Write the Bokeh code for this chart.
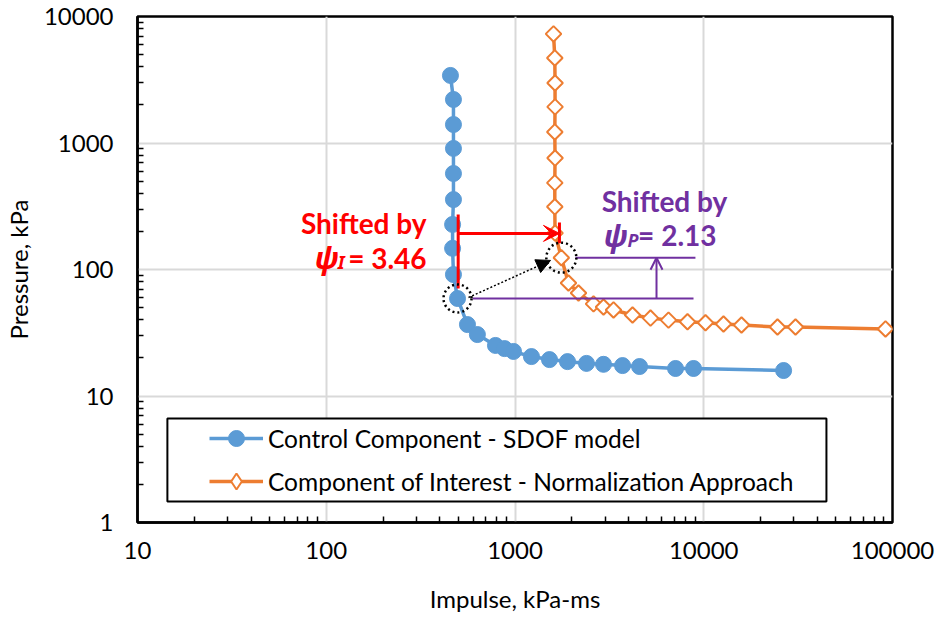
import numpy as np
from bokeh.plotting import figure
from bokeh.models import (FixedTicker, Legend, LegendItem, Label, Arrow, VeeHead,
                          OpenHead, NormalHead, BoxAnnotation, PrintfTickFormatter)
from bokeh.embed import file_html
from bokeh.resources import INLINE

# ---------------- data ----------------
control_impulse = [455, 472, 472, 472, 472, 472, 467, 467, 472, 496, 560, 632, 788, 880,
                   982, 1222, 1523, 1897, 2392, 2944, 3713, 4570, 7087, 8830, 26490]
control_pressure = [3420, 2208, 1400, 906, 574, 357, 227, 147, 91.2, 59, 36.7, 30.6, 25.1,
                    23.7, 22.5, 20.5, 19.4, 18.7, 18.1, 17.8, 17.4, 17.1, 16.5, 16.5, 15.9]
interest_impulse = [1600, 1625, 1630, 1630, 1625, 1630, 1625, 1625, 1630, 1760, 1920, 2170,
                    2606, 2944, 3326, 4194, 5223, 6506, 8202, 10216, 12724, 15849, 24584,
                    30631, 91820]
interest_pressure = [7285, 4703, 2982, 1930, 1223, 760, 484, 313, 194, 124, 78.2, 65.2, 53.5,
                     50.5, 47.9, 43.7, 41.3, 39.8, 38.6, 37.9, 37.1, 36.4, 35.1, 35.1, 33.9]

series_labels = ["Control Component - SDOF model",
                 "Component of Interest - Normalization Approach"]
x_ticks = [10, 100, 1000, 10000, 100000]
y_ticks = [1, 10, 100, 1000, 10000]
psi_I_text = "= 3.46"
psi_P_text = "= 2.13"
shift_text = "Shifted by"

BLUE = "#5b9bd5"
ORANGE = "#ed7d31"
RED = "#ff0000"
PURPLE = "#7030a0"
FONT = "Lato"

p = figure(width=937, height=617, x_axis_type="log", y_axis_type="log",
           x_range=(10, 100000), y_range=(1, 10000),
           output_backend="svg", toolbar_location=None,
           min_border_left=137, min_border_right=45, min_border_top=16, min_border_bottom=95)
p.background_fill_color = "white"
p.border_fill_color = "white"
p.outline_line_color = "black"
p.outline_line_width = 2.5


def minors(ticks):
    out = []
    for t in ticks[:-1]:
        out += [t * m for m in range(2, 10)]
    return out


p.xaxis.ticker = FixedTicker(ticks=x_ticks, minor_ticks=minors(x_ticks))
p.yaxis.ticker = FixedTicker(ticks=y_ticks, minor_ticks=minors(y_ticks))
p.xaxis.formatter = PrintfTickFormatter(format="%d")
p.yaxis.formatter = PrintfTickFormatter(format="%d")
p.xaxis.axis_label = "Impulse, kPa-ms"
p.yaxis.axis_label = "Pressure, kPa"

for ax in (p.xaxis[0], p.yaxis[0]):
    ax.axis_line_color = "black"
    ax.axis_line_width = 2.5
    ax.major_tick_in = 0
    ax.major_tick_out = 0
    ax.minor_tick_in = 6
    ax.minor_tick_out = 0
    ax.minor_tick_line_color = "black"
    ax.minor_tick_line_width = 1.5
    ax.major_label_text_font = FONT
    ax.major_label_text_font_size = "24px"
    ax.major_label_text_color = "black"
    ax.axis_label_text_font = FONT
    ax.axis_label_text_font_size = "24px"
    ax.axis_label_text_font_style = "normal"
    ax.axis_label_text_color = "black"

p.xaxis.major_label_standoff = 19
p.xaxis.axis_label_standoff = 22
p.yaxis.major_label_standoff = 24
p.yaxis.axis_label_standoff = 8

for g in (p.xgrid[0], p.ygrid[0]):
    g.grid_line_color = "#d9d9d9"
    g.grid_line_width = 2

# ---------------- series ----------------
bl = p.line(control_impulse, control_pressure, line_color=BLUE, line_width=3.5)
bs = p.scatter(control_impulse, control_pressure, marker="circle", size=16,
               fill_color=BLUE, line_color=BLUE)
ol = p.line(interest_impulse, interest_pressure, line_color=ORANGE, line_width=3.5)
# legend stand-in for the diamond marker (legend glyphs are never rotated)
oleg = p.scatter(interest_impulse[:1], interest_pressure[:1], marker="diamond", size=0.1,
                 fill_color="white", line_color=ORANGE, line_width=2)
osr = p.scatter(interest_impulse, interest_pressure, marker="square", angle=np.pi / 4,
                size=11, fill_color="white", line_color=ORANGE, line_width=2)

# ---------------- annotations ----------------
# red shift (impulse)
red_x0, red_x1 = 500, 1720
p.segment(x0=[red_x0, red_x1], y0=[272, 235], x1=[red_x0, red_x1], y1=[70.8, 161],
          line_color=RED, line_width=3)
p.add_layout(Arrow(x_start=red_x0, y_start=193, x_end=red_x1, y_end=193,
                   line_color=RED, line_width=3,
                   end=VeeHead(size=16, fill_color=RED, line_color=RED)))

# purple shift (pressure)
p.segment(x0=[596, 2092], y0=[control_pressure[9], interest_pressure[9]],
          x1=[8826, 9036], y1=[control_pressure[9], interest_pressure[9]],
          line_color=PURPLE, line_width=2)
p.add_layout(Arrow(x_start=5620, y_start=control_pressure[9], x_end=5620,
                   y_end=interest_pressure[9], line_color=PURPLE, line_width=2,
                   end=OpenHead(size=12, line_color=PURPLE, line_width=2)))

# dotted circles and dotted arrow
p.scatter(x=[control_impulse[9], interest_impulse[9]],
          y=[control_pressure[9], interest_pressure[9]],
          marker="circle", size=[28, 30], fill_alpha=0, line_color="black",
          line_width=2.5, line_dash="2 3")
p.add_layout(Arrow(x_start=567, y_start=60.1, x_end=1542, y_end=118,
                   line_color="black", line_width=1.5, line_dash="2 2",
                   end=NormalHead(size=14, fill_color="black", line_color="black")))

# texts
def lab(x, y, text, color, size, align="right", font=FONT, style="bold"):
    p.add_layout(Label(x=x, y=y, text=text, text_align=align, text_baseline="alphabetic",
                       text_font=font, text_font_style=style, text_font_size=size,
                       text_color=color, y_offset=12))

lab(340, 186, shift_text, RED, "28px")
lab(340, 100, psi_I_text, RED, "28px")
lab(125, 92.9, "I", RED, "18px", font="Noto Sans", style="bold italic")
lab(116, 100, "ψ", RED, "30px", font="Noto Sans", style="bold italic")

lab(6194, 282, shift_text, PURPLE, "28px", align="center")
lab(11685, 149.5, psi_P_text, PURPLE, "28px")
lab(4508, 138.7, "P", PURPLE, "18px", font="Noto Sans", style="bold italic")
lab(3945, 149.5, "ψ", PURPLE, "30px", font="Noto Sans", style="bold italic")

# legend box + legend
box = BoxAnnotation(left=14.4, right=44670, bottom=1.466, top=6.64,
                    fill_color="white", fill_alpha=1, line_color="black", line_alpha=1,
                    line_width=2)
p.add_layout(box)
legend = Legend(items=[LegendItem(label=series_labels[0], renderers=[bl, bs]),
                       LegendItem(label=series_labels[1], renderers=[ol, oleg])],
                location=(72, 21), padding=0, margin=0, spacing=3,
                glyph_width=54, glyph_height=40, label_standoff=5, label_height=26,
                label_text_font=FONT, label_text_font_size="24.5px",
                label_text_color="black",
                border_line_alpha=0, background_fill_alpha=0)
p.add_layout(legend)

open("out.html", "w").write(file_html(p, INLINE))
